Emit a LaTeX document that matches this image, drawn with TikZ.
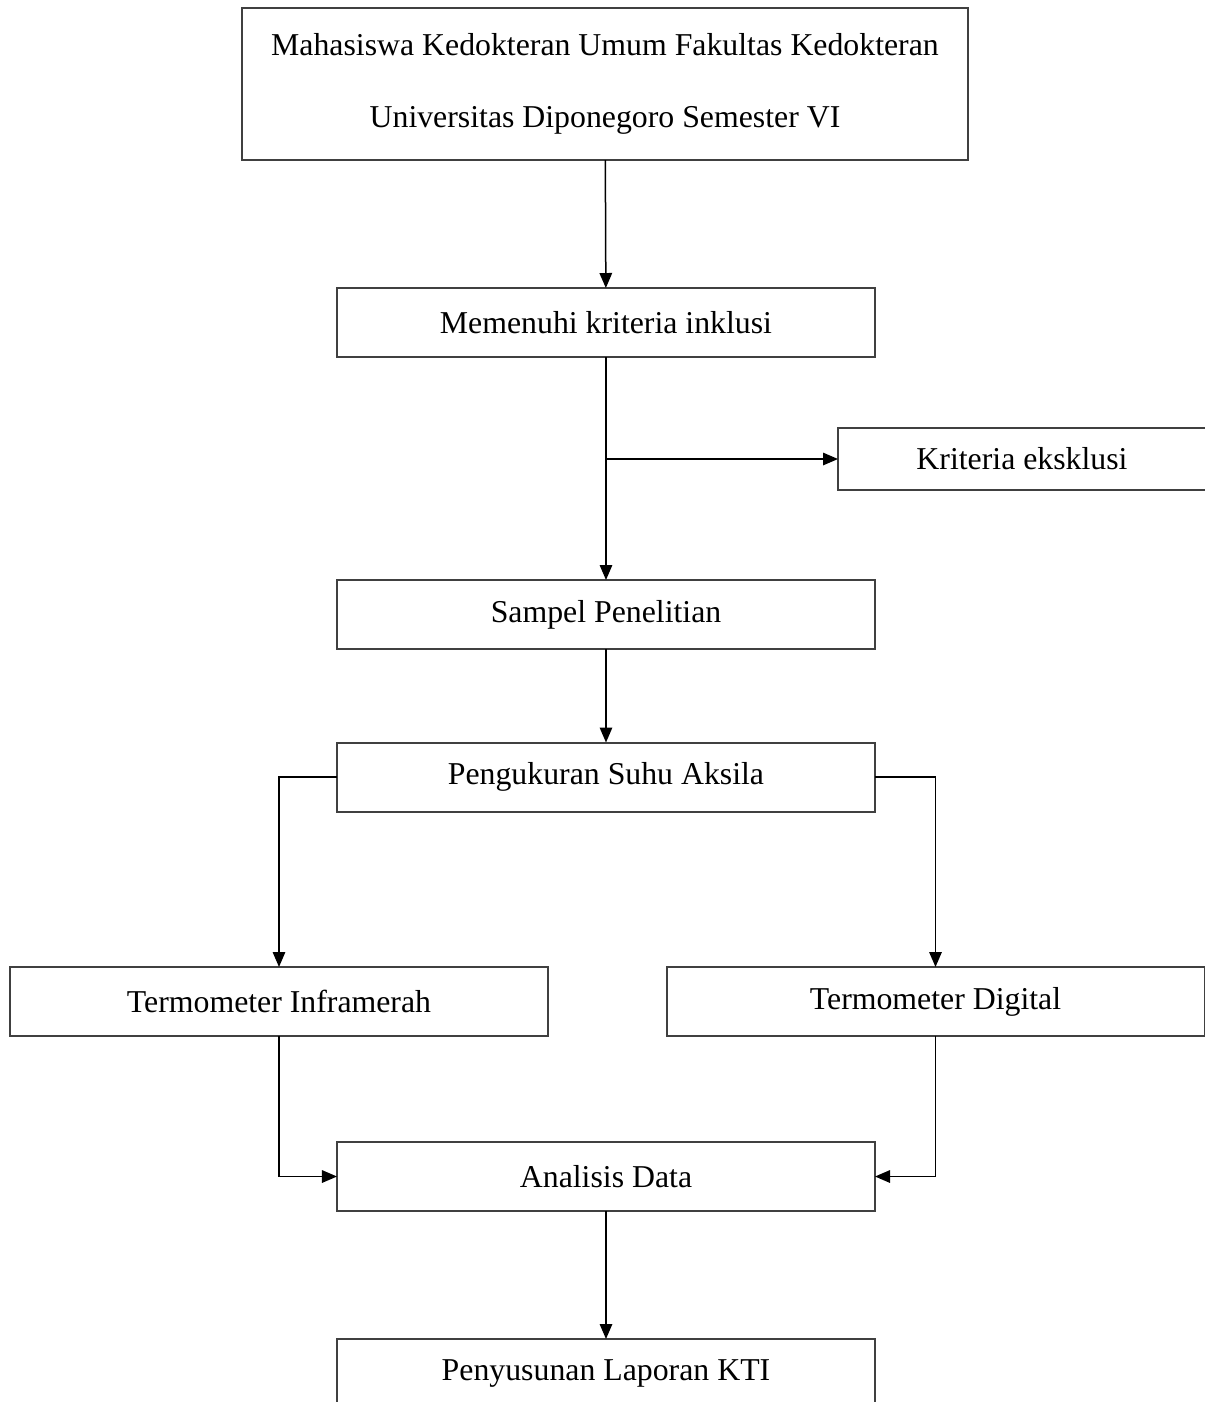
\documentclass[tikz,border=0pt,12pt]{standalone}
\usepackage{fontspec}
\setmainfont{Liberation Serif}[Scale=1.06]
\usetikzlibrary{arrows.meta}
\begin{document}
\begin{tikzpicture}[x=0.4pt,y=-0.4pt,inner sep=0,outer sep=0,
  box/.style={draw=black!75,line width=0.8pt,minimum width=215.2pt,minimum height=27.6pt},
  arr/.style={-{Triangle[length=6pt,width=5pt]},line width=0.6pt}]
\useasboundingbox (0,0) rectangle (1205,1402);
\clip (0,0) rectangle (1205,1402);
% boxes
\node[box,minimum width=290.4pt,minimum height=60.8pt,align=center] (top) at (605,84) {Mahasiswa Kedokteran Umum Fakultas Kedokteran\\[14.3pt] Universitas Diponegoro Semester VI};
\node[box] (inklusi) at (606,322.5) {Memenuhi kriteria inklusi};
\node[box,minimum width=147.2pt,minimum height=24.8pt] (eksklusi) at (1022,459) {Kriteria eksklusi};
\node[box] (sampel) at (606,614.5) {Sampel Penelitian};
\node[box] (ukur) at (606,777) {Pengukuran Suhu Aksila};
\node[box] (infra) at (279,1001.5) {Termometer Inframerah};
\node[box] (digital) at (935.5,1001.5) {Termometer Digital};
\node[box] (analisis) at (606,1176.5) {Analisis Data};
\node[box] (laporan) at (606,1373.5) {Penyusunan Laporan KTI};
% connectors
\draw[arr] (top) -- (inklusi);
\draw[arr] (inklusi) -- (sampel);
\draw[arr] (eksklusi.west -| inklusi.south) -- (eksklusi.west);
\draw[arr] (sampel) -- (ukur);
\draw[arr] (ukur.west) -| (infra.north);
\draw[arr] (ukur.east) -| (digital.north);
\draw[arr] (infra.south) |- (analisis.west);
\draw[arr] (digital.south) |- (analisis.east);
\draw[arr] (analisis) -- (laporan);
\end{tikzpicture}
\end{document}
